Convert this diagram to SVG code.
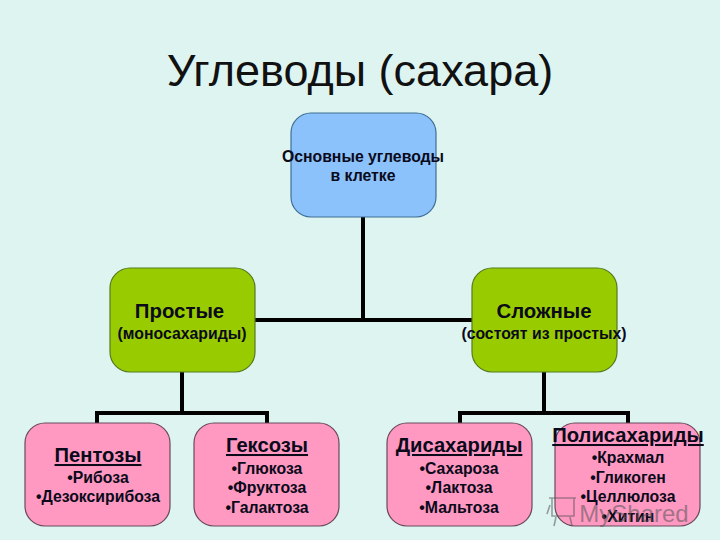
<svg xmlns="http://www.w3.org/2000/svg" width="720" height="540" viewBox="0 0 720 540">
<style>
text{font-family:"Liberation Sans",Arial,sans-serif;text-anchor:middle;fill:#0a0a1a}
.b{font-weight:bold;font-size:15.8px}
.h{font-weight:bold;font-size:20.2px;text-decoration:underline}
.m{font-weight:bold;font-size:20.4px}
.node{stroke-width:1.2}
.blue{fill:#8cc2fb;stroke:#3f6f94}
.green{fill:#99cc00;stroke:#557a20}
.pink{fill:#ff99c2;stroke:#6a4a5c}
.conn{fill:none;stroke:#000;stroke-width:4}
</style>
<rect width="720" height="540" fill="#ddf4f1"/>
<text id="title" x="360" y="86" style="font-size:45px;fill:#111">Углеводы (сахара)</text>
<g id="connectors">
<path class="conn" d="M363 217V320"/>
<path class="conn" d="M255 320H472"/>
<path class="conn" d="M182 372V413"/>
<path class="conn" d="M97 423V413H267V423"/>
<path class="conn" d="M544 372V413"/>
<path class="conn" d="M460 423V413H628V423"/>
</g>
<g id="node-main">
<rect class="node blue" x="291" y="113" width="145" height="104" rx="20"/>
<text class="b" x="363" y="162">Основные углеводы</text>
<text class="b" x="363" y="181">в клетке</text>
</g>
<g id="node-simple">
<rect class="node green" x="110" y="268" width="145" height="104" rx="20"/>
<text class="m" x="179.500" y="318">Простые</text>
<text class="b" x="182" y="339">(моносахариды)</text>
</g>
<g id="node-complex">
<rect class="node green" x="472" y="268" width="145" height="104" rx="20"/>
<text class="m" x="544" y="318">Сложные</text>
<text class="b" x="544" y="339">(состоят из простых)</text>
</g>
<g id="node-pentoses">
<rect class="node pink" x="25" y="423" width="145" height="103" rx="20"/>
<text class="h" x="98" y="462">Пентозы</text>
<text class="b" x="98" y="483">•Рибоза</text>
<text class="b" x="98" y="502">•Дезоксирибоза</text>
</g>
<g id="node-hexoses">
<rect class="node pink" x="194" y="423" width="145" height="103" rx="20"/>
<text class="h" x="267" y="452">Гексозы</text>
<text class="b" x="267" y="474">•Глюкоза</text>
<text class="b" x="267" y="493">•Фруктоза</text>
<text class="b" x="267" y="513">•Галактоза</text>
</g>
<g id="node-disaccharides">
<rect class="node pink" x="387" y="423" width="145" height="103" rx="20"/>
<text class="h" x="459" y="452">Дисахариды</text>
<text class="b" x="459" y="474">•Сахароза</text>
<text class="b" x="459" y="493">•Лактоза</text>
<text class="b" x="459" y="513">•Мальтоза</text>
</g>
<g id="node-polysaccharides">
<rect class="node pink" x="555" y="423" width="145" height="103" rx="20"/>
<text class="h" x="628" y="442">Полисахариды</text>
<text class="b" x="628" y="463">•Крахмал</text>
<text class="b" x="628" y="483">•Гликоген</text>
<text class="b" x="628" y="502">•Целлюлоза</text>
<text class="b" x="628" y="522">•Хитин</text>
</g>
<g id="watermark" opacity="0.55">
<path d="M549 498H576M552 498V516H574V498M550 505L547 514M556 517L554 526M570 517L572 526" fill="none" stroke="#555" stroke-width="1.6"/>
<text x="634" y="522" style="font-size:24px;fill:#555">MyShared</text>
</g>
</svg>
